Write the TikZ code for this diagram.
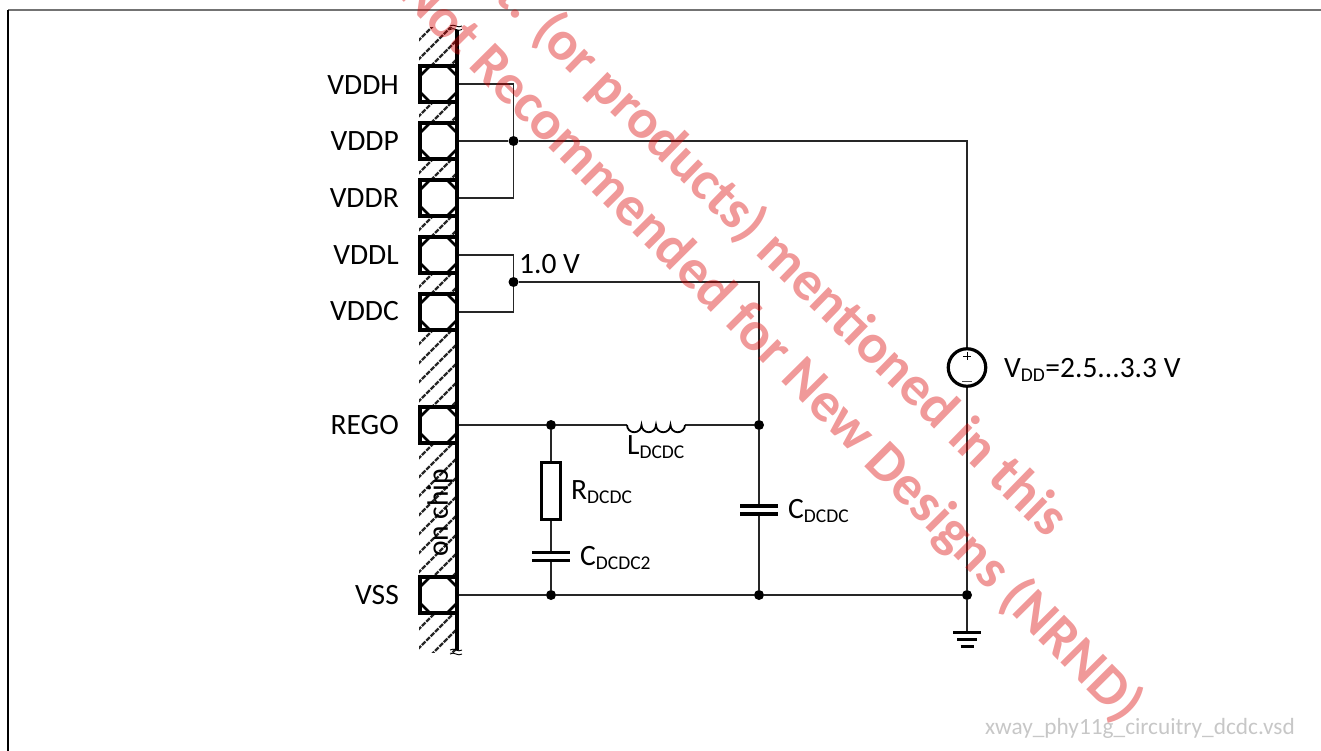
\documentclass[tikz,border=0pt]{standalone}
\usepackage{fontspec}
\setmainfont{Carlito}
\usetikzlibrary{calc}
\newcommand{\subs}[1]{\textsubscript{\fontsize{19.5}{22}\selectfont #1}}
\tikzset{
  x=1pt,y=-1pt,
  wire/.style={line width=1.3pt,black!85},
  dotn/.style={circle,fill=black,inner sep=0pt,minimum size=10pt},
  txt/.style={inner sep=0pt,font=\fontsize{29.5}{30}\selectfont},
  padbox/.style={draw=black,line width=3.6pt,minimum size=36.5pt,inner sep=0pt,fill=white},
  hatchl/.style={line width=2.2pt,black!85,dash pattern=on 5pt off 1.2pt},
  platel/.style={line width=3.2pt,black},
  comp/.style={draw=black,line width=3.2pt,fill=white,inner sep=0pt},
  cutl/.style={line width=2.6pt,black},
  wm/.style={inner sep=0pt,text=red!85!black,opacity=.4,font=\bfseries\fontsize{56}{60}\selectfont},
}
\begin{document}
\begin{tikzpicture}
\useasboundingbox (0,0) rectangle (1321,751);
\draw[line width=1.5pt,black!55] (8,10) -- (1321,10);
\draw[line width=1.3pt,black] (8,10) -- (8,751);
% hatched strip
\begin{scope}
\clip (419,28) rectangle (458,652);
\foreach \k in {0,...,36} { \draw[hatchl] (400,{40+19*\k}) -- (470,{40+19*\k-70}); }
\end{scope}
\draw[line width=3.6pt,black] (457,30) -- (457,650);
\draw[line width=.9pt] (450,26) .. controls (454,23) and (458,29) .. (462,26);
\draw[line width=.9pt] (450,29.5) .. controls (454,26.5) and (458,32.5) .. (462,29.5);
\draw[line width=.9pt] (450,650) .. controls (454,647) and (458,653) .. (462,650);
\draw[line width=.9pt] (450,654) .. controls (454,651) and (458,657) .. (462,654);
% pads
\foreach \n/\y in {vddh/84,vddp/141,vddr/198,vddl/255,vddc/312,rego/425,vss/595}{
  \node[padbox] (\n) at (438.5,\y) {};
  \draw[cutl] (420.5,\y-8.5) -- (429.5,\y-17.5);
  \draw[cutl] (456.5,\y-8.5) -- (447.5,\y-17.5);
  \draw[cutl] (420.5,\y+8.5) -- (429.5,\y+17.5);
  \draw[cutl] (456.5,\y+8.5) -- (447.5,\y+17.5);
}
% labels
\node[txt,anchor=east] at (399,85) {VDDH};
\node[txt,anchor=east] at (399,141) {VDDP};
\node[txt,anchor=east] at (399,198) {VDDR};
\node[txt,anchor=east] at (399,255) {VDDL};
\node[txt,anchor=east] at (399,311) {VDDC};
\node[txt,anchor=east] at (399,425) {REGO};
\node[txt,anchor=east] at (399,595) {VSS};
\node[txt,rotate=90] at (440,513) {on chip};
% junctions
\node[dotn] (j1) at (513.5,141) {};
\node[dotn] (j2) at (513.5,282) {};
\node[dotn] (j3) at (551,425) {};
\node[dotn] (j4) at (759,425) {};
\node[dotn] (j5) at (551,595) {};
\node[dotn] (j6) at (759,595) {};
\node[dotn] (j7) at (967,595) {};
% wires
\draw[wire] (vddh.east) -| (j1);
\draw[wire] (vddr.east) -| (j1);
\draw[wire] (vddp.east) -- (j1);
\coordinate (tr) at (967,141);
\node[circle,draw=black,line width=3.2pt,minimum size=37.5pt,inner sep=0pt] (src) at (967,367.5) {};
\draw[wire] (j1) -- (tr) -- (src.north);
\draw[wire] (src.south) -- (j7);
\draw[line width=.9pt] (967,352) -- (967,360) (963,356) -- (971,356);
\draw[line width=1.3pt,black!70] (962,381.5) -- (972,381.5);
\draw[wire] (vddl.east) -| (j2);
\draw[wire] (vddc.east) -| (j2);
\draw[wire] (j2) -| (j4);
\node[txt,anchor=west] at (519,264) {1.0 V};
% rego line with inductor
\coordinate (la) at (627,425);
\coordinate (lb) at (685,425);
\draw[wire] (rego.east) -- (j3) -- (la);
\draw[wire] (lb) -- (j4);
\draw[line width=1.8pt] (la) arc (180:0:7.25) arc (180:0:7.25) arc (180:0:7.25) arc (180:0:7.25);
\node[txt,anchor=west] at (627,447) {L\subs{DCDC}};
% RC branch
\node[comp,minimum width=19pt,minimum height=57pt] (r) at (551,491) {};
\draw[wire] (j3) -- (r.north);
\coordinate (c2t) at (551,552.5);
\coordinate (c2b) at (551,560.5);
\draw[wire] (r.south) -- (c2t);
\draw[wire] (c2b) -- (j5);
\draw[platel] (532,552.5) -- (570,552.5);
\draw[platel] (532,560.5) -- (570,560.5);
\node[txt,anchor=west] at (571,492) {R\subs{DCDC}};
\node[txt,anchor=west] at (580,558) {C\subs{DCDC2}};
% C branch
\coordinate (c1t) at (759,506);
\coordinate (c1b) at (759,514);
\draw[wire] (j4) -- (c1t);
\draw[wire] (c1b) -- (j6);
\draw[platel] (740,506) -- (778,506);
\draw[platel] (740,514) -- (778,514);
\node[txt,anchor=west] at (788,511) {C\subs{DCDC}};
% bottom rail
\draw[wire] (vss.east) -- (j5) -- (j6) -- (j7);
% ground
\coordinate (g1) at (967,632.5);
\draw[wire] (j7) -- (g1);
\draw[line width=3pt] (953,632.5) -- (981,632.5);
\draw[line width=3pt] (957,639.5) -- (977,639.5);
\draw[line width=3pt] (960.5,646.5) -- (973.5,646.5);
\node[txt,anchor=west] at (1004,370) {V\subs{DD}=2.5...3.3 V};
\node[inner sep=0pt,anchor=east,text=black!22,font=\fontsize{23.3}{24}\selectfont] at (1295,728) {xway\_phy11g\_circuitry\_dcdc.vsd};
% watermark
\begin{scope}
\clip (0,0) rectangle (1321,751);
\node[wm,rotate=-45.2] at (771,349) {Not Recommended for New Designs (NRND)};
\node[wm,rotate=-44.3] at (782,257) {t. (or products) mentioned in this};
\end{scope}
\end{tikzpicture}
\end{document}
